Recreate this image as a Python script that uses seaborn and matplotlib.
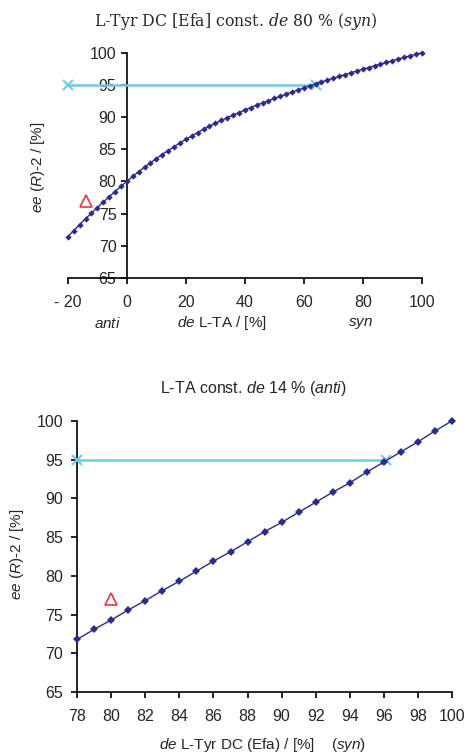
import numpy as np
import pandas as pd
import matplotlib
matplotlib.use('Agg')
import matplotlib.pyplot as plt
import seaborn as sns

# top panel: L-Tyr DC fixed at de 80 % (syn), de of L-TA varied
de_lta = list(range(-20, 101, 2))
ee_top = [71.40, 72.35, 73.28, 74.19, 75.07, 75.93, 76.78, 77.61, 78.42, 79.22,
          80.00, 80.76, 81.50, 82.20, 82.88, 83.54, 84.17, 84.79, 85.39, 85.97,
          86.53, 87.07, 87.59, 88.09, 88.57, 89.03, 89.47, 89.89, 90.30, 90.70,
          91.09, 91.47, 91.84, 92.20, 92.55, 92.89, 93.23, 93.56, 93.89, 94.21,
          94.53, 94.84, 95.15, 95.45, 95.75, 96.04, 96.33, 96.61, 96.89, 97.16,
          97.43, 97.70, 97.97, 98.23, 98.49, 98.75, 99.01, 99.26, 99.51, 99.76,
          100.00]
target_top_x = [-20, 64]
target_top_y = [95, 95]
exp_top_x = [-14]
exp_top_y = [77]

# bottom panel: L-TA fixed at de 14 % (anti), de of L-Tyr DC varied
de_tyr = list(range(78, 101))
ee_bot = [71.8, 73.1, 74.3, 75.6, 76.8, 78.1, 79.3, 80.6, 81.9, 83.1, 84.4, 85.7,
          86.9, 88.2, 89.5, 90.8, 92.0, 93.4, 94.7, 96.0, 97.3, 98.7, 100.0]
target_bot_x = [78, 96.1]
target_bot_y = [95, 95]
exp_bot_x = [80]
exp_bot_y = [77]

top_ticks_x = [-20, 0, 20, 40, 60, 80, 100]
bot_ticks_x = list(range(78, 101, 2))
ticks_y = [65, 70, 75, 80, 85, 90, 95, 100]

navy = '#2b2b8c'
cyan = '#6ecbe6'
red = '#e8383d'

sns.set_style('ticks')
plt.rcParams['font.family'] = ['Liberation Sans', 'DejaVu Sans']
plt.rcParams['mathtext.fontset'] = 'custom'
plt.rcParams['mathtext.rm'] = 'Liberation Sans'
plt.rcParams['mathtext.it'] = 'Liberation Sans:italic'
plt.rcParams['axes.unicode_minus'] = False

fig = plt.figure(figsize=(4.65, 7.53), dpi=100)
ax1 = fig.add_axes([0.146, 0.631, 0.761, 0.299])
ax2 = fig.add_axes([0.166, 0.081, 0.806, 0.360])


def draw_panel(ax, x, y, tx, ty, ex, ey, msize):
    sns.lineplot(x=tx, y=ty, ax=ax, color=cyan, lw=1.8, marker='x',
                 markersize=7, markeredgewidth=1.5, markeredgecolor=cyan,
                 clip_on=False, zorder=3)
    sns.lineplot(x=x, y=y, ax=ax, color=navy, lw=1.0, marker='D',
                 markersize=msize, markeredgewidth=0, clip_on=False, zorder=4)
    ax.plot(ex, ey, ls='none', marker='^', markersize=9, markerfacecolor='none',
            markeredgecolor=red, markeredgewidth=1.2, zorder=5)
    ax.set_ylim(65, 100)
    ax.set_yticks(ticks_y)
    sns.despine(ax=ax)
    for s in ['left', 'bottom']:
        ax.spines[s].set_linewidth(1.2)
        ax.spines[s].set_color('black')
    ax.tick_params(labelsize=11.5, length=4, width=1.2, color='black')
    ax.tick_params(axis='x', pad=8)
    ax.set_xlabel('')
    ax.set_ylabel('')


draw_panel(ax1, de_lta, ee_top, target_top_x, target_top_y,
           exp_top_x, exp_top_y, 3.2)
ax1.set_xlim(-20, 100)
ax1.set_xticks(top_ticks_x)
ax1.set_xticklabels(['- 20', '0', '20', '40', '60', '80', '100'])
ax1.spines['left'].set_position(('data', 0))

draw_panel(ax2, de_tyr, ee_bot, target_bot_x, target_bot_y,
           exp_bot_x, exp_bot_y, 4.0)
ax2.set_xlim(78, 100)
ax2.set_xticks(bot_ticks_x)
ax2.tick_params(axis='y', pad=6)

# titles and axis texts
fig.text(236 / 465, 1 - 22 / 753, r'L-Tyr DC [Efa] const. $de$ 80 % ($syn$)',
         ha='center', va='center', fontsize=11.3, family='DejaVu Serif',
         math_fontfamily='dejavuserif')
fig.text(38 / 465, 1 - 167 / 753, r'$ee$ ($R$)-2 / [%]', rotation=90,
         ha='center', va='center', fontsize=11)
fig.text(107 / 465, 1 - 323 / 753, r'$anti$', ha='center', va='center', fontsize=11)
fig.text(222 / 465, 1 - 323 / 753, r'$de$ L-TA / [%]', ha='center', va='center',
         fontsize=11)
fig.text(361 / 465, 1 - 323 / 753, r'$syn$', ha='center', va='center', fontsize=11)

fig.text(253 / 465, 1 - 389 / 753, r'L-TA const. $de$ 14 % ($anti$)',
         ha='center', va='center', fontsize=11.5)
fig.text(17 / 465, 1 - 554 / 753, r'$ee$ ($R$)-2 / [%]', rotation=90,
         ha='center', va='center', fontsize=11)
fig.text(262 / 465, 1 - 745 / 753, r'$de$ L-Tyr DC (Efa) / [%]    ($syn$)',
         ha='center', va='center', fontsize=11)

fig.savefig('out.png', dpi=100)
